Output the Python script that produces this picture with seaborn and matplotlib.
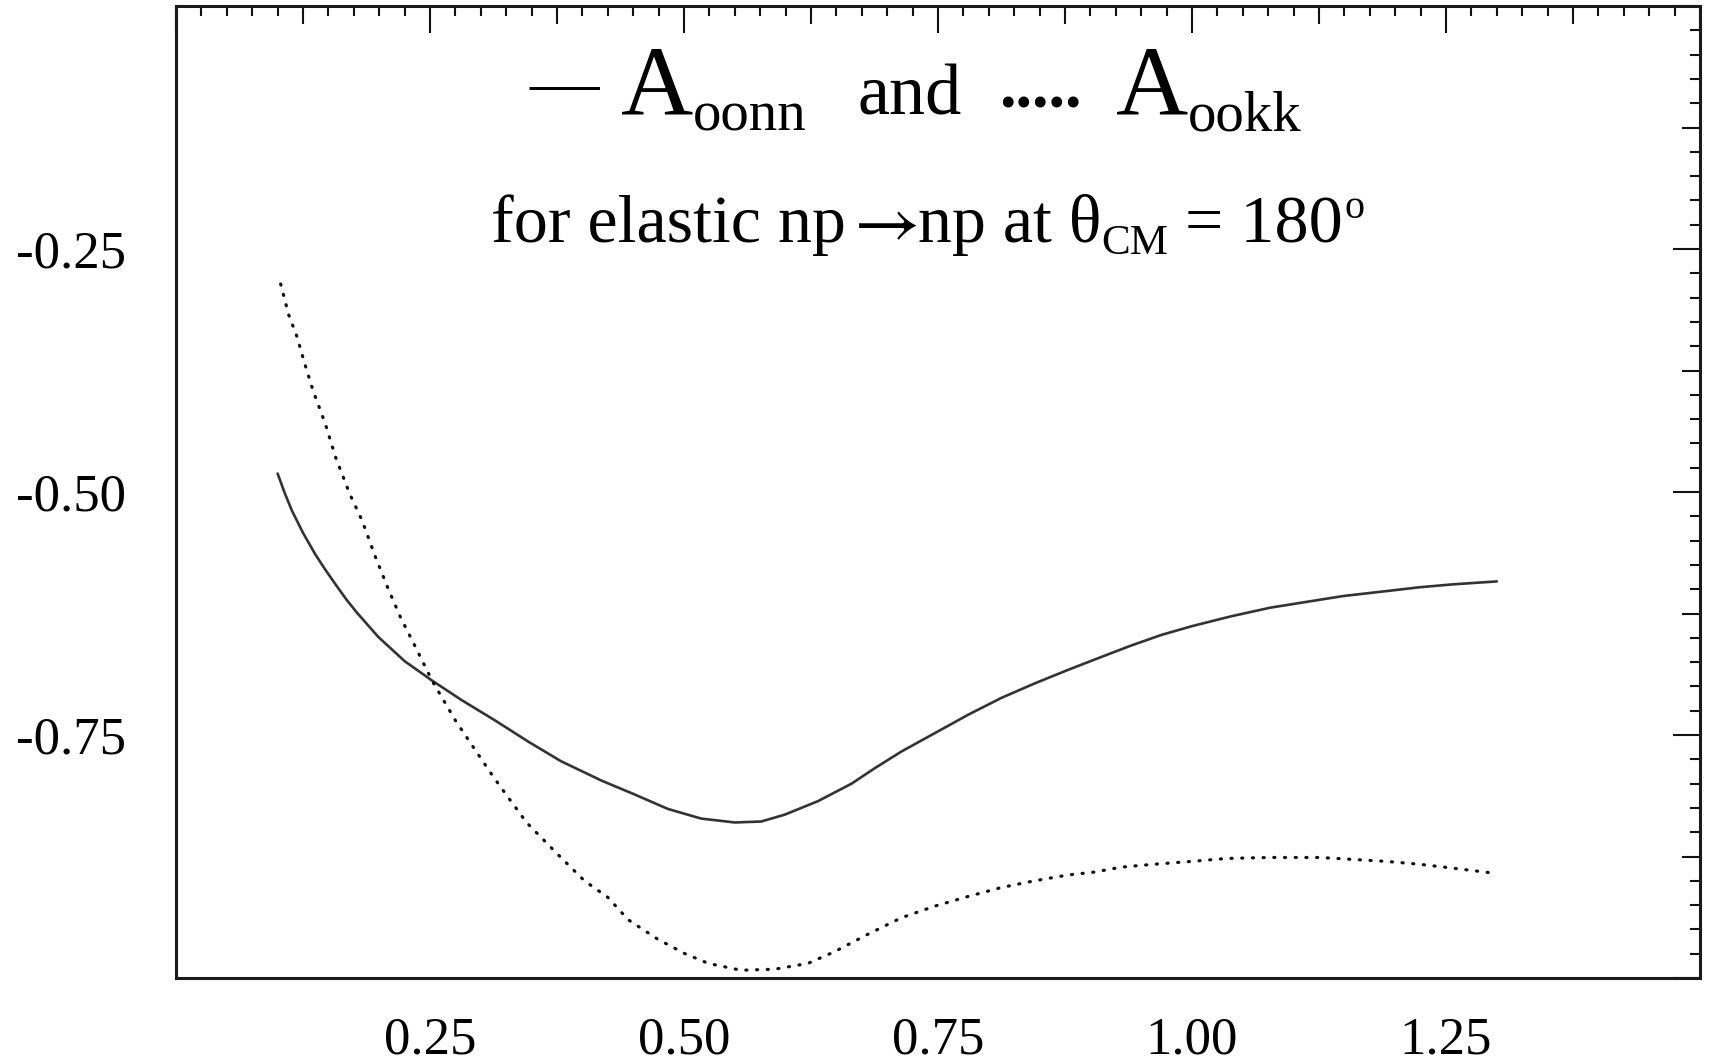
import numpy as np
import pandas as pd
import matplotlib
matplotlib.use("Agg")
import matplotlib.pyplot as plt
import matplotlib.transforms as mtransforms
import seaborn as sns

# Spin-correlation asymmetries for elastic np -> np at theta_CM = 180 deg
energy_oonn = [0.100, 0.107, 0.114, 0.125, 0.137, 0.147, 0.157, 0.168, 0.178, 0.199,
               0.225, 0.252, 0.281, 0.314, 0.347, 0.379, 0.419, 0.451, 0.484, 0.517,
               0.550, 0.576, 0.599, 0.632, 0.665, 0.688, 0.714, 0.747, 0.780, 0.812,
               0.845, 0.878, 0.910, 0.940, 0.970, 1.000, 1.038, 1.077, 1.113, 1.149,
               1.191, 1.224, 1.257, 1.300]
a_oonn = [-0.481, -0.501, -0.519, -0.542, -0.564, -0.580, -0.595, -0.611, -0.624, -0.649,
          -0.674, -0.694, -0.714, -0.735, -0.757, -0.777, -0.797, -0.811, -0.826, -0.836,
          -0.840, -0.839, -0.832, -0.818, -0.800, -0.784, -0.767, -0.748, -0.729, -0.712,
          -0.697, -0.683, -0.670, -0.658, -0.647, -0.638, -0.628, -0.619, -0.613, -0.607,
          -0.602, -0.598, -0.595, -0.592]

energy_ookk = [0.103, 0.111, 0.119, 0.127, 0.135, 0.147, 0.157, 0.171, 0.183, 0.196,
               0.209, 0.221, 0.235, 0.252, 0.275, 0.291, 0.311, 0.324, 0.345, 0.375,
               0.402, 0.425, 0.445, 0.474, 0.501, 0.524, 0.556, 0.589, 0.622, 0.648,
               0.681, 0.714, 0.747, 0.780, 0.812, 0.845, 0.878, 0.904, 0.930, 0.962,
               1.000, 1.034, 1.077, 1.126, 1.158, 1.191, 1.224, 1.257, 1.296]
a_ookk = [-0.286, -0.318, -0.340, -0.369, -0.396, -0.430, -0.464, -0.502, -0.529, -0.566,
          -0.600, -0.629, -0.658, -0.694, -0.735, -0.760, -0.791, -0.810, -0.840, -0.872,
          -0.900, -0.917, -0.940, -0.960, -0.975, -0.985, -0.992, -0.991, -0.985, -0.973,
          -0.955, -0.938, -0.926, -0.916, -0.907, -0.900, -0.894, -0.891, -0.886, -0.883,
          -0.880, -0.877, -0.876, -0.876, -0.878, -0.880, -0.883, -0.887, -0.892]

x_labels = {0.25: "0.25", 0.50: "0.50", 0.75: "0.75", 1.00: "1.00", 1.25: "1.25"}
y_labels = {-0.25: "-0.25", -0.50: "-0.50", -0.75: "-0.75"}

sns.set_theme(style="white")
plt.rcParams["font.family"] = ["Liberation Serif", "DejaVu Serif"]
plt.rcParams["mathtext.fontset"] = "stix"

fig = plt.figure(figsize=(17.12, 10.64), dpi=100)
ax = fig.add_axes([176 / 1712, 86 / 1064, 1524 / 1712, 972 / 1064])

df_oonn = pd.DataFrame({"energy": energy_oonn, "A": a_oonn})
df_ookk = pd.DataFrame({"energy": energy_ookk, "A": a_ookk})

sns.lineplot(data=df_oonn, x="energy", y="A", ax=ax, sort=False,
             color="#333333", linewidth=1.9, solid_joinstyle="round")
sns.lineplot(data=df_ookk, x="energy", y="A", ax=ax, sort=False,
             color="#111111", linewidth=2.3, linestyle=(0, (0.35, 3.0)),
             dash_capstyle="round")

ax.set_xlim(0, 1.5)
ax.set_ylim(-1.0, 0.0)
ax.set_xlabel("")
ax.set_ylabel("")

# major ticks every 0.125 (long ones at multiples of 0.25), minor every 0.025
xmaj = np.round(np.arange(0, 1.5001, 0.125), 3)
ymaj = np.round(np.arange(-1.0, 0.0001, 0.125), 3)
ax.set_xticks(xmaj)
ax.set_yticks(ymaj)
ax.set_xticklabels([x_labels.get(float(v), "") for v in xmaj])
ax.set_yticklabels([y_labels.get(float(v), "") for v in ymaj])
ax.set_xticks(np.round(np.arange(0, 1.5001, 0.025), 3), minor=True)
ax.set_yticks(np.round(np.arange(-1.0, 0.0001, 0.025), 3), minor=True)

ax.tick_params(which="both", direction="in", top=True, right=True,
               color="#111111", width=1.5)
ax.tick_params(which="minor", length=7.2)
ax.tick_params(which="major", length=19.5, labelsize=38, labelcolor="black")
ax.tick_params(axis="x", which="major", pad=28)
ax.tick_params(axis="y", which="major", pad=36)

for axis, locs in ((ax.xaxis, xmaj), (ax.yaxis, ymaj)):
    for tick, v in zip(axis.get_major_ticks(), locs):
        long_tick = abs(v / 0.25 - round(v / 0.25)) < 1e-6
        size = 19.5 if long_tick else 13
        tick.tick1line.set_markersize(size)
        tick.tick2line.set_markersize(size)

for sp in ax.spines.values():
    sp.set_visible(True)
    sp.set_color("#1a1a1a")
    sp.set_linewidth(2.2)


def place_runs(runs, x_center, y_base):
    renderer = fig.canvas.get_renderer()
    items = []
    total = 0.0
    for text, size, gap, rise, weight in runs:
        t = ax.text(x_center, y_base, text, fontsize=size, ha="left",
                    va="baseline", color="black", fontweight=weight)
        w = t.get_window_extent(renderer).width
        items.append((t, gap, w, rise))
        total += gap + w
    cursor = -total / 2.0
    for t, gap, w, rise in items:
        cursor += gap
        t.set_transform(mtransforms.offset_copy(ax.transData, fig=fig, x=cursor,
                                                y=rise, units="dots"))
        cursor += w


place_runs([
    ("\u2014", 50, 0, 10, "normal"),
    ("A", 72, 22, 0, "normal"),
    ("oonn", 41, 0, -16, "normal"),
    ("and", 52, 50, 0, "normal"),
    (".....", 48, 38, 7, "bold"),
    ("A", 72, 34, 0, "normal"),
    ("ookk", 41, 0, -16, "normal"),
], 0.728, -0.112)

place_runs([
    ("for elastic np", 49, 0, 0, "normal"),
    ("$\\rightarrow$", 52, -3, 0, "normal"),
    ("np at \u03b8", 49, 1, 0, "normal"),
    ("CM", 31, 0, -12, "normal"),
    ("= 180", 49, 16, 0, "normal"),
    ("o", 29, 2, 24, "normal"),
], 0.740, -0.243)

fig.savefig("out.png", dpi=100, facecolor="white")
